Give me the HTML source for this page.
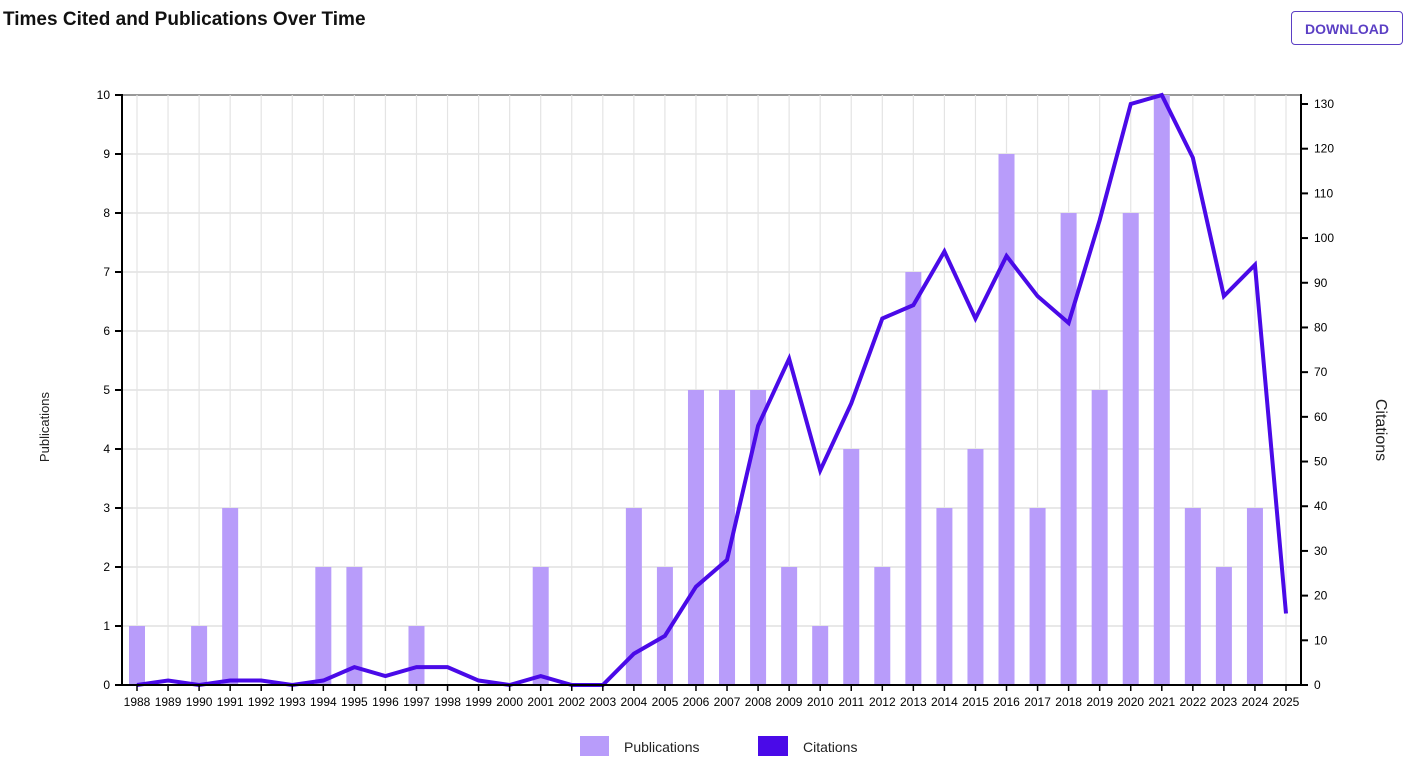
<!DOCTYPE html>
<html><head><meta charset="utf-8"><style>
body{margin:0;background:#fff;font-family:"Liberation Sans",sans-serif;}
#title{position:absolute;left:3px;top:9px;font-size:19px;font-weight:bold;color:#111;}
#dl{position:absolute;left:1291px;top:11px;width:112px;height:34px;border:1px solid #5b3fc4;border-radius:4px;color:#5b3fc4;font-size:14px;font-weight:bold;text-align:center;line-height:34px;box-sizing:border-box;background:#fff;}
svg{position:absolute;left:0;top:0;}
</style></head><body>
<div id="title">Times Cited and Publications Over Time</div>
<div id="dl">DOWNLOAD</div>
<svg id="chart" width="1415" height="758"></svg>
<script>
const years=[];for(let y=1988;y<=2025;y++)years.push(String(y));
const publications=[1,0,1,3,0,0,2,2,0,1,0,0,0,2,0,0,3,2,5,5,5,2,1,4,2,7,3,4,9,3,8,5,8,10,3,2,3,0];
const citations=[0,1,0,1,1,0,1,4,2,4,4,1,0,2,0,0,7,11,22,28,58,73,48,63,82,85,97,82,96,87,81,104,130,132,118,87,94,16];
const leftTicks=[0,1,2,3,4,5,6,7,8,9,10];
const rightTicks=[0,10,20,30,40,50,60,70,80,90,100,110,120,130];
const NS='http://www.w3.org/2000/svg';
const svg=document.getElementById('chart');
const L=122,R=1301,T=95,B=685;
const x=i=>137+i*(1286-137)/(years.length-1);
const yL=v=>B-v*(B-T)/10;
const yR=v=>B-v*(B-104)/130;
function mk(t,a,p){const e=document.createElementNS(NS,t);for(const k in a)e.setAttribute(k,a[k]);(p||svg).appendChild(e);return e;}
// grid
leftTicks.forEach(v=>{const l=mk('line',{x1:L,x2:R,y1:yL(v),y2:yL(v),stroke:v==10?'#999':'#e0e0e0','stroke-width':v==10?2:1.5});

});
years.forEach((y,i)=>{const l=mk('line',{x1:x(i),x2:x(i),y1:T,y2:B,stroke:'#e4e4e4','stroke-width':1.2});

});
// bars
publications.forEach((v,i)=>{if(!v)return;const r=mk('rect',{x:x(i)-8,y:yL(v),width:16,height:B-yL(v),fill:'#b89cfa'});

});
// line
const pl=mk('polyline',{points:citations.map((v,i)=>x(i)+','+yR(v)).join(' '),fill:'none',stroke:'#4a0ae8','stroke-width':4,'stroke-linejoin':'miter'});


// axes
mk('line',{x1:L,x2:L,y1:T-1,y2:B+1,stroke:'#000','stroke-width':2});
mk('line',{x1:R,x2:R,y1:T-1,y2:B+1,stroke:'#000','stroke-width':2});
mk('line',{x1:L,x2:R,y1:B,y2:B,stroke:'#000','stroke-width':2});
leftTicks.forEach(v=>{mk('line',{x1:L-7,x2:L,y1:yL(v),y2:yL(v),stroke:'#000','stroke-width':2});
const t=mk('text',{x:L-12,y:yL(v)+4,'text-anchor':'end','font-size':12,fill:'#000'});t.textContent=v;

});
rightTicks.forEach(v=>{mk('line',{x1:R,x2:R+7,y1:yR(v),y2:yR(v),stroke:'#000','stroke-width':2});
const t=mk('text',{x:R+13,y:yR(v)+4,'font-size':12,fill:'#000'});t.textContent=v;

});
years.forEach((y,i)=>{mk('line',{x1:x(i),x2:x(i),y1:B,y2:B+6,stroke:'#000','stroke-width':1.5});
const t=mk('text',{x:x(i),y:B+21,'text-anchor':'middle','font-size':12,fill:'#000'});t.textContent=y;

});
let t=mk('text',{x:49,y:427,'text-anchor':'middle','font-size':13,fill:'#222',transform:'rotate(-90 49 427)'});t.textContent='Publications';


t=mk('text',{x:1376,y:430,'text-anchor':'middle','font-size':16,fill:'#222',transform:'rotate(90 1376 430)'});t.textContent='Citations';


// legend
let g=mk('g',{});
mk('rect',{x:580,y:736,width:29,height:20,fill:'#b89cfa'},g);
t=mk('text',{x:624,y:752,'font-size':14,fill:'#222'},g);t.textContent='Publications';
g=mk('g',{});
mk('rect',{x:758,y:736,width:30,height:20,fill:'#4a0ae8'},g);
t=mk('text',{x:803,y:752,'font-size':14,fill:'#222'},g);t.textContent='Citations';
</script>
</body></html>
